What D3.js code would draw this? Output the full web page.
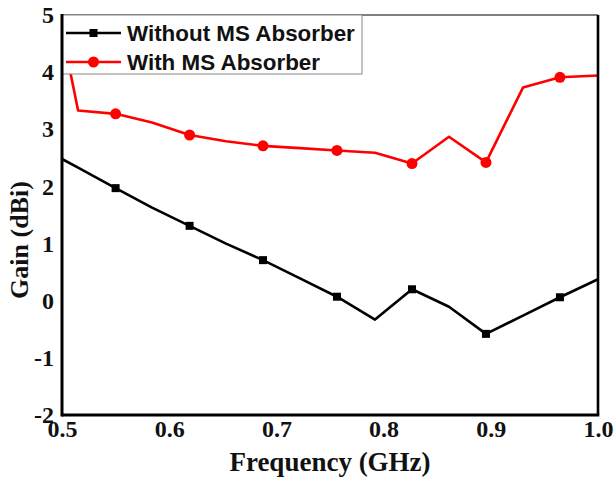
<!DOCTYPE html>
<html>
<head>
<meta charset="utf-8">
<script src="https://cdn.jsdelivr.net/npm/d3@7"></script>
<style>
  body { margin: 0; background: #fff; }
  .tick text { font-family: "Liberation Serif", "Times New Roman", serif; font-weight: bold; }
</style>
</head>
<body>
<svg id="chart" width="614" height="479"></svg>
<script>
'use strict';

// frequency (GHz) sample points
const freq = [0.5, 0.515, 0.55, 0.584, 0.619, 0.653, 0.6875, 0.722, 0.7565, 0.792, 0.8265, 0.861, 0.8955, 0.930, 0.9645, 1.0];
// gain (dBi)
const gainWithout = [2.48, 2.33, 1.97, 1.63, 1.31, 1.0, 0.71, 0.39, 0.07, -0.33, 0.2, -0.105, -0.58, -0.26, 0.06, 0.375];
const gainWith = [4.72, 3.33, 3.27, 3.12, 2.90, 2.79, 2.71, 2.67, 2.63, 2.59, 2.40, 2.87, 2.42, 3.73, 3.91, 3.94];
// frequencies that carry a symbol
const markedFreq = [0.55, 0.619, 0.6875, 0.7565, 0.8265, 0.8955, 0.9645];
const xTicks = [0.5, 0.6, 0.7, 0.8, 0.9, 1.0];
const yTicks = [-2, -1, 0, 1, 2, 3, 4, 5];
const seriesNames = ['Without MS Absorber', 'With MS Absorber'];

const margin = { left: 62, top: 15, right: 16, bottom: 64 };
const W = 614, H = 479;
const svg = d3.select('#chart');

const x = d3.scaleLinear().domain([0.5, 1.0]).range([margin.left, W - margin.right]);
const y = d3.scaleLinear().domain([-2, 5]).range([H - margin.bottom, margin.top]);

// axes: labels only, no tick marks
svg.append('g')
  .attr('transform', `translate(0,${y(-2)})`)
  .call(d3.axisBottom(x).tickValues(xTicks).tickFormat(d => d.toFixed(1)).tickSize(0).tickPadding(5))
  .call(g => g.select('.domain').remove())
  .selectAll('text').attr('font-size', 24).attr('fill', '#111');

svg.append('g')
  .attr('transform', `translate(${x(0.5)},0)`)
  .call(d3.axisLeft(y).tickValues(yTicks).tickFormat(d => String(d)).tickSize(0).tickPadding(8))
  .call(g => g.select('.domain').remove())
  .selectAll('text').attr('font-size', 24).attr('fill', '#111');

// series
const series = [
  { name: seriesNames[0], vals: gainWithout, color: '#000', sym: 'square' },
  { name: seriesNames[1], vals: gainWith, color: '#ff0000', sym: 'circle' },
];

const line = d3.line().x(d => x(d[0])).y(d => y(d[1]));

function drawSymbol(g, s, cx, cy) {
  if (s.sym === 'square') {
    g.append('rect').attr('x', cx - 4).attr('y', cy - 4).attr('width', 8).attr('height', 8).attr('fill', s.color);
  } else {
    g.append('circle').attr('cx', cx).attr('cy', cy).attr('r', 5.5).attr('fill', s.color);
  }
}

series.forEach(s => {
  const pts = freq.map((f, i) => [f, s.vals[i]]);
  svg.append('path')
    .attr('d', line(pts))
    .attr('fill', 'none')
    .attr('stroke', s.color)
    .attr('stroke-width', 2.6)
    .attr('stroke-linejoin', 'round');
  const g = svg.append('g');
  pts.filter(p => markedFreq.includes(p[0]))
    .forEach(p => drawSymbol(g, s, x(p[0]), y(p[1])));
});

// frame
svg.append('line').attr('x1', x(0.5)).attr('x2', x(1.0)).attr('y1', y(5)).attr('y2', y(5))
  .attr('stroke', '#555').attr('stroke-width', 1.6);
svg.append('line').attr('x1', x(1.0)).attr('x2', x(1.0)).attr('y1', y(5)).attr('y2', y(-2))
  .attr('stroke', '#000').attr('stroke-width', 2.6);

// legend
const leg = svg.append('g');
leg.append('rect')
  .attr('x', x(0.5)).attr('y', y(5))
  .attr('width', 300).attr('height', 59)
  .attr('fill', '#fff').attr('stroke', '#888').attr('stroke-width', 1);
series.forEach((s, i) => {
  const cy = 33 + i * 29;
  leg.append('line').attr('x1', 66).attr('x2', 121).attr('y1', cy).attr('y2', cy)
    .attr('stroke', s.color).attr('stroke-width', 2.6);
  drawSymbol(leg, s, 93.5, cy);
  leg.append('text')
    .attr('x', 127).attr('y', cy + 8)
    .attr('font-family', '"Liberation Sans", Arial, sans-serif')
    .attr('font-weight', 'bold').attr('font-size', 22.4)
    .attr('fill', '#111')
    .text(s.name);
});

// left and bottom axis lines (drawn over legend edge)
svg.append('line').attr('x1', x(0.5)).attr('x2', x(0.5)).attr('y1', y(5) - 1).attr('y2', y(-2) + 1.5)
  .attr('stroke', '#000').attr('stroke-width', 3);
svg.append('line').attr('x1', x(0.5)).attr('x2', x(1.0) + 1.3).attr('y1', y(-2)).attr('y2', y(-2))
  .attr('stroke', '#000').attr('stroke-width', 3);

// axis titles
svg.append('text')
  .attr('x', (x(0.5) + x(1.0)) / 2).attr('y', 471)
  .attr('text-anchor', 'middle')
  .attr('font-family', '"Liberation Serif", "Times New Roman", serif')
  .attr('font-weight', 'bold').attr('font-size', 27).attr('fill', '#111')
  .text('Frequency (GHz)');
svg.append('text')
  .attr('transform', `translate(19,240) rotate(-90)`)
  .attr('text-anchor', 'middle')
  .attr('dominant-baseline', 'central')
  .attr('font-family', '"Liberation Serif", "Times New Roman", serif')
  .attr('font-weight', 'bold').attr('font-size', 26).attr('fill', '#111')
  .text('Gain (dBi)');
</script>
</body>
</html>
